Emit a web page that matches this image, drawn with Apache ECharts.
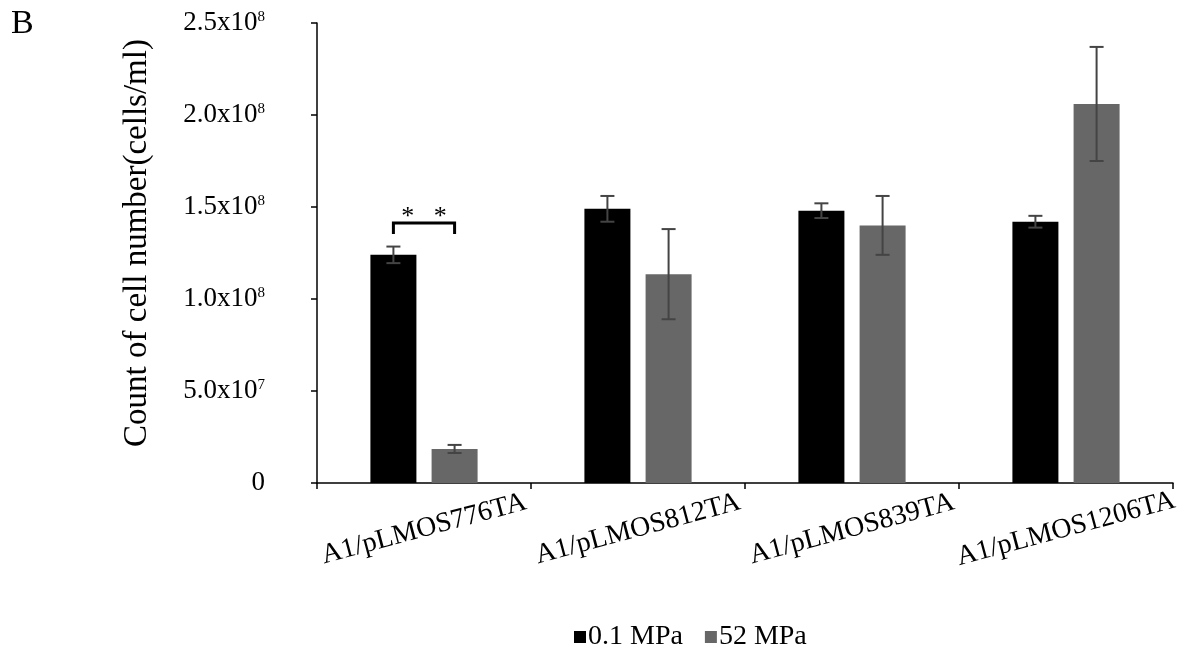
<!DOCTYPE html>
<html>
<head>
<meta charset="utf-8">
<script src="https://cdn.jsdelivr.net/npm/echarts@6/dist/echarts.min.js"></script>
<style>
html,body{margin:0;padding:0;background:#fff;}
#chart{width:1185px;height:651px;}
</style>
</head>
<body>
<div id="chart"></div>
<script>
const categories = ['A1/pLMOS776TA', 'A1/pLMOS812TA', 'A1/pLMOS839TA', 'A1/pLMOS1206TA'];
const seriesNames = ['0.1 MPa', '52 MPa'];
const lowPressure = [1.24e8, 1.49e8, 1.48e8, 1.42e8];
const lowPressureErr = [0.045e8, 0.07e8, 0.04e8, 0.032e8];
const highPressure = [0.185e8, 1.135e8, 1.40e8, 2.06e8];
const highPressureErr = [0.022e8, 0.245e8, 0.16e8, 0.31e8];
const yTickValues = [0, 5e7, 1e8, 1.5e8, 2e8, 2.5e8];
const yTickLabels = ['0', '5.0x10^7', '1.0x10^8', '1.5x10^8', '2.0x10^8', '2.5x10^8'];
const significance = { category: 0, value: 1.413e8, legValue: 1.353e8, label: '*   *' };

const FONT = '"Liberation Serif", "DejaVu Serif", serif';
const BAR_W = 46;
const BAR_GAP = 0.33;
const OFFSET = (BAR_W + BAR_W * BAR_GAP) / 2;

function fmtTick(v) {
  const i = yTickValues.findIndex(t => Math.abs(t - v) < 1);
  if (i < 0) return '';
  const s = yTickLabels[i];
  const parts = s.split('^');
  if (parts.length === 1) return s;
  return parts[0] + '{sup|' + parts[1] + '}';
}

function errorSeries(vals, errs, sign) {
  return {
    type: 'custom',
    silent: true,
    z: 10,
    data: vals.map((v, i) => [i, v - errs[i], v + errs[i]]),
    renderItem: function (params, api) {
      const lo = api.coord([api.value(0), api.value(1)]);
      const hi = api.coord([api.value(0), api.value(2)]);
      const x = lo[0] + sign * OFFSET;
      const cap = 7;
      const style = { stroke: '#444', lineWidth: 2 };
      return {
        type: 'group',
        children: [
          { type: 'line', shape: { x1: x, y1: lo[1], x2: x, y2: hi[1] }, style: style },
          { type: 'line', shape: { x1: x - cap, y1: lo[1], x2: x + cap, y2: lo[1] }, style: style },
          { type: 'line', shape: { x1: x - cap, y1: hi[1], x2: x + cap, y2: hi[1] }, style: style }
        ]
      };
    }
  };
}

const chart = echarts.init(document.getElementById('chart'));
chart.setOption({
  animation: false,
  backgroundColor: '#fff',
  graphic: [{
    type: 'text', left: 11, top: 7,
    style: { text: 'B', font: '34px ' + FONT, fill: '#000' }
  }],
  legend: {
    top: 618,
    left: 569,
    itemWidth: 12,
    itemHeight: 12,
    itemGap: 22,
    icon: 'rect',
    data: seriesNames,
    textStyle: { fontFamily: FONT, fontSize: 28, color: '#000', padding: [0, 0, 0, -3] }
  },
  grid: { left: 317, right: 12, top: 23, bottom: 168, containLabel: false },
  xAxis: {
    type: 'category',
    data: categories,
    axisLine: { lineStyle: { color: '#000', width: 1.5 } },
    axisTick: { show: true, length: 6, lineStyle: { color: '#000', width: 1.5 } },
    axisLabel: {
      interval: 0,
      rotate: 15,
      align: 'center',
      verticalAlign: 'middle',
      margin: 46,
      fontFamily: FONT,
      fontSize: 28,
      color: '#000'
    }
  },
  yAxis: {
    type: 'value',
    min: 0,
    max: 2.5e8,
    interval: 5e7,
    name: 'Count of cell number(cells/ml)',
    nameLocation: 'middle',
    nameGap: 163,
    nameRotate: 90,
    nameTextStyle: { fontFamily: FONT, fontSize: 33, color: '#000', padding: [0, 0, 0, 20] },
    splitLine: { show: false },
    axisLine: { show: true, lineStyle: { color: '#000', width: 1.5 } },
    axisTick: { show: true, length: 6, lineStyle: { color: '#000', width: 1.5 } },
    axisLabel: {
      margin: 52,
      fontFamily: FONT,
      fontSize: 27,
      color: '#000',
      formatter: fmtTick,
      rich: {
        sup: { fontFamily: FONT, fontSize: 15, color: '#000', verticalAlign: 'top', padding: [0, 0, 12, 0] }
      }
    }
  },
  series: [
    {
      name: seriesNames[0], type: 'bar', data: lowPressure,
      barWidth: BAR_W, barGap: (BAR_GAP * 100) + '%',
      itemStyle: { color: '#000' }
    },
    {
      name: seriesNames[1], type: 'bar', data: highPressure,
      barWidth: BAR_W, barGap: (BAR_GAP * 100) + '%',
      itemStyle: { color: '#676767' }
    },
    errorSeries(lowPressure, lowPressureErr, -1),
    errorSeries(highPressure, highPressureErr, 1),
    {
      type: 'custom',
      silent: true,
      z: 11,
      data: [[significance.category, significance.value, significance.legValue]],
      renderItem: function (params, api) {
        const top = api.coord([api.value(0), api.value(1)]);
        const leg = api.coord([api.value(0), api.value(2)]);
        const x1 = top[0] - OFFSET, x2 = top[0] + OFFSET;
        const style = { stroke: '#000', lineWidth: 3, fill: null };
        return {
          type: 'group',
          children: [
            { type: 'polyline', shape: { points: [[x1, leg[1]], [x1, top[1]], [x2, top[1]], [x2, leg[1]]] }, style: style },
            { type: 'text', style: { text: significance.label, x: top[0], y: top[1] - 6, align: 'center', verticalAlign: 'middle', font: '26px ' + FONT, fill: '#000' } }
          ]
        };
      }
    }
  ]
});
</script>
</body>
</html>
